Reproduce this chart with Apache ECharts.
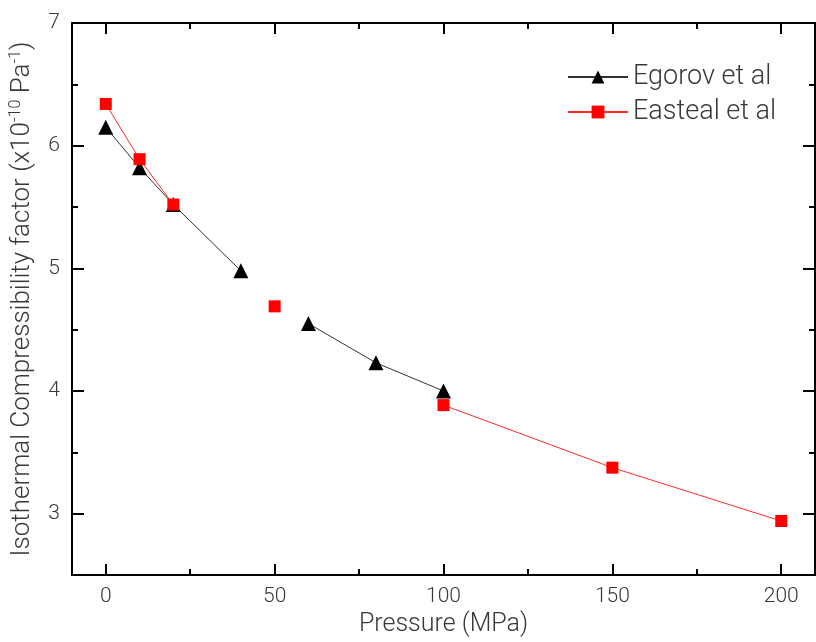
<!DOCTYPE html>
<html>
<head>
<meta charset="utf-8">
<script src="https://cdn.jsdelivr.net/npm/echarts@6/dist/echarts.min.js"></script>
<style>
html,body{margin:0;padding:0;background:#fff;}
#chart{width:816px;height:642px;}
</style>
</head>
<body>
<div id="chart"></div>
<script>
// Data
const pressureEgorov = [0, 10, 20, 40, 50, 60, 80, 100];
const egorovValues   = [6.15, 5.82, 5.52, 4.98, null, 4.55, 4.23, 4.00];
const pressureEasteal = [0, 10, 20, 40, 50, 60, 100, 150, 200];
const eastealValues   = [6.34, 5.89, 5.52, null, 4.69, null, 3.885, 3.375, 2.94];
const xMajorTicks = [0, 50, 100, 150, 200];
const xMinorTicks = [25, 75, 125, 175];
const yMajorTicks = [3, 4, 5, 6, 7];
const yMinorTicks = [2.5, 3.5, 4.5, 5.5, 6.5];
const seriesNames = ['Egorov et al', 'Easteal et al'];

const FONT = 'Roboto';
const TXT = '#383838';

function pairs(xs, ys) {
  return xs.map((x, i) => [x, ys[i] === null ? '-' : ys[i]]);
}

const X_MIN = -10, X_MAX = 210, Y_MIN = 2.5, Y_MAX = 7;

function xAx(pos, ticks, len, opts) {
  return Object.assign({
    type: 'value', position: pos, min: X_MIN, max: X_MAX,
    axisLine: { show: true, onZero: false, lineStyle: { color: '#000', width: 2 } },
    axisTick: { show: true, inside: true, length: len, customValues: ticks, lineStyle: { color: '#000', width: 2 } },
    axisLabel: { show: false },
    splitLine: { show: false }
  }, opts || {});
}
function yAx(pos, ticks, len, opts) {
  return Object.assign({
    type: 'value', position: pos, min: Y_MIN, max: Y_MAX,
    axisLine: { show: true, onZero: false, lineStyle: { color: '#000', width: 2 } },
    axisTick: { show: true, inside: true, length: len, customValues: ticks, lineStyle: { color: '#000', width: 2 } },
    axisLabel: { show: false },
    splitLine: { show: false }
  }, opts || {});
}

const chart = echarts.init(document.getElementById('chart'), null, { renderer: 'canvas' });
chart.setOption({
  animation: false,
  backgroundColor: '#fff',
  grid: { left: 72, right: 1, top: 23, bottom: 64, containLabel: false },
  legend: {
    orient: 'vertical', left: 562, top: 58,
    itemWidth: 60, itemHeight: 16, itemGap: 7,
    textStyle: { fontFamily: FONT, fontWeight: 300, fontSize: 27, lineHeight: 28, color: TXT },
    data: seriesNames
  },
  xAxis: [
    xAx('bottom', xMajorTicks, 11, {
      axisLabel: { show: true, customValues: xMajorTicks, margin: 11, fontFamily: FONT, fontWeight: 300, fontSize: 21, color: TXT },
      name: 'Pressure (MPa)', nameLocation: 'middle', nameGap: 37,
      nameTextStyle: { fontFamily: FONT, fontWeight: 300, fontSize: 25, color: TXT }
    }),
    xAx('bottom', xMinorTicks, 6),
    xAx('top', xMajorTicks, 11),
    xAx('top', xMinorTicks, 6)
  ],
  yAxis: [
    yAx('left', yMajorTicks, 12, {
      axisLabel: { show: true, customValues: yMajorTicks, margin: 12, fontFamily: FONT, fontWeight: 300, fontSize: 21, color: TXT },
      name: '{a|Isothermal Compressibility factor (x10}{s|-10}{a| Pa}{s|-1}{a|)}',
      nameLocation: 'middle', nameGap: 32, nameRotate: 90,
      nameTextStyle: {
        fontFamily: FONT, fontWeight: 300, fontSize: 26, color: TXT,
        rich: {
          a: { fontFamily: FONT, fontWeight: 300, fontSize: 26, color: TXT, lineHeight: 30 },
          s: { fontFamily: FONT, fontWeight: 300, fontSize: 16, color: TXT, lineHeight: 30, padding: [0, 0, 13, 0] }
        }
      }
    }),
    yAx('left', yMinorTicks, 6),
    yAx('right', yMajorTicks, 12),
    yAx('right', yMinorTicks, 6)
  ],
  series: [
    {
      name: seriesNames[0], type: 'line', xAxisIndex: 0, yAxisIndex: 0,
      data: pairs(pressureEgorov, egorovValues),
      connectNulls: false,
      symbol: 'triangle', symbolSize: 15, showAllSymbol: true,
      itemStyle: { color: '#000' },
      lineStyle: { color: '#333', width: 1 },
      z: 2
    },
    {
      name: seriesNames[1], type: 'line', xAxisIndex: 0, yAxisIndex: 0,
      data: pairs(pressureEasteal, eastealValues),
      connectNulls: false,
      symbol: 'rect', symbolSize: 12, showAllSymbol: true,
      itemStyle: { color: '#ff0000' },
      lineStyle: { color: '#ff2a2a', width: 1 },
      z: 3
    }
  ]
});
</script>
</body>
</html>
